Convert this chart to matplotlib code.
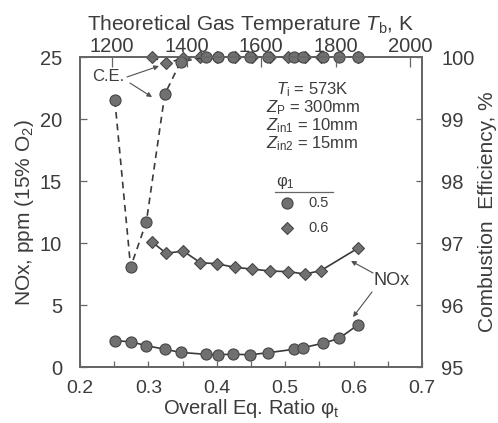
import numpy as np
import matplotlib
matplotlib.use("Agg")
import matplotlib.pyplot as plt

plt.rcParams['font.family'] = ['Liberation Sans', 'DejaVu Sans']
plt.rcParams['mathtext.fontset'] = 'custom'
plt.rcParams['mathtext.rm'] = 'Liberation Sans'
plt.rcParams['mathtext.it'] = 'Liberation Sans:italic'

#%% Data
phi_05 = [0.251, 0.274, 0.297, 0.324, 0.347, 0.384, 0.402, 0.423, 0.449,
          0.475, 0.513, 0.526, 0.555, 0.579, 0.606]
nox_05 = [2.12, 2.04, 1.72, 1.43, 1.18, 1.02, 0.99, 1.03, 0.99,
          1.15, 1.43, 1.56, 1.91, 2.31, 3.39]
ce_05  = [99.30, 96.61, 97.34, 99.40, 99.92, 100.0, 100.0, 100.0, 100.0,
          100.0, 100.0, 100.0, 100.0, 100.0, 100.0]

phi_06 = [0.305, 0.326, 0.351, 0.376, 0.400, 0.426, 0.451, 0.478, 0.504,
          0.529, 0.552, 0.606]
nox_06 = [10.1, 9.17, 9.35, 8.41, 8.33, 8.04, 7.90, 7.74, 7.69,
          7.50, 7.77, 9.57]
ce_06  = [100.0, 99.90, 99.98, 100.0, 100.0, 100.0, 100.0, 100.0, 100.0,
          100.0, 100.0, 100.0]

x_ticks   = [0.2, 0.3, 0.4, 0.5, 0.6, 0.7]
nox_ticks = [0, 5, 10, 15, 20, 25]
ce_ticks  = [95, 96, 97, 98, 99, 100]
tb_ticks  = [1200, 1400, 1600, 1800, 2000]
phi1_labels = ['0.5', '0.6']

#### Styles
gray_txt  = '#3c3c3c'
gray_ax   = '#666666'
mfill     = '#707070'
medge     = '#464646'
lcol      = '#3a3a3a'
circ = dict(marker='o', ms=8, mfc=mfill, mec=medge, mew=0.8)
diam = dict(marker='D', ms=6, mfc=mfill, mec=medge, mew=0.8)

fig = plt.figure(figsize=(4.98, 4.23), dpi=100)
ax  = fig.add_axes([80/498, 1-367/423, 342/498, 310/423])
axr = ax.twinx()
axt = ax.twiny()

#### CE (right axis)
axr.plot(phi_06, ce_06, color=lcol, lw=1.2, ls=(0, (4, 3)), clip_on=False, zorder=3, **diam)
axr.plot(phi_05, ce_05, color=lcol, lw=1.2, ls=(0, (4, 3)), clip_on=False, zorder=4, **circ)

#### NOx (left axis)
ax.plot(phi_06, nox_06, color=lcol, lw=1.2, clip_on=False, **diam)
ax.plot(phi_05, nox_05, color=lcol, lw=1.2, clip_on=False, **circ)

#### Limits and ticks
ax.set_xlim(0.2, 0.7)
ax.set_ylim(0, 25)
axr.set_ylim(95, 100)
axt.set_xlim(1114, 2032)

ax.set_xticks(x_ticks)
ax.set_xticks(np.arange(0.25, 0.7, 0.1), minor=True)
ax.set_yticks(nox_ticks)
axr.set_yticks(ce_ticks)
axt.set_xticks(tb_ticks)

ax.tick_params(axis='x', which='both', direction='in', length=4, width=0.9,
               colors=gray_ax, labelcolor=gray_txt, labelsize=14, pad=9)
ax.tick_params(axis='y', direction='in', length=5, width=0.9,
               colors=gray_ax, labelcolor=gray_txt, labelsize=14.5, pad=13)
axr.tick_params(axis='y', direction='in', length=4, width=0.9,
                colors=gray_ax, labelcolor=gray_txt, labelsize=14.5, pad=14)
axt.tick_params(axis='x', direction='in', length=7, width=0.9,
                colors=gray_ax, labelcolor=gray_txt, labelsize=14.5, pad=1)
ax.set_xticklabels(['0.2', '0.3', '0.4', '0.5', '0.6', '0.7'])

for a in (ax, axr, axt):
    for s in a.spines.values():
        s.set_color(gray_ax)
        s.set_linewidth(1.1)

ax.set_xlabel('Overall Eq. Ratio φ$_\\mathrm{t}$', fontsize=14.5, color=gray_txt, labelpad=0)
ax.set_ylabel('NOx, ppm (15% O$_2$)', fontsize=15, color=gray_txt, labelpad=3)
axr.set_ylabel('Combustion  Efficiency, %', fontsize=15, color=gray_txt,
               rotation=90, labelpad=2)
axt.set_xlabel('Theoretical Gas Temperature $T_\\mathrm{b}$, K', fontsize=15,
               color=gray_txt, labelpad=5)

#### Conditions
cond = ['$T_\\mathrm{i}$ = 573K', '$Z_\\mathrm{P}$ = 300mm',
        '$Z_\\mathrm{in1}$ = 10mm', '$Z_\\mathrm{in2}$ = 15mm']
for i, t in enumerate(cond):
    ax.text(0.54, 22.4 - i*1.45, t, ha='center', va='center', fontsize=12,
            color=gray_txt)

#### Legend (phi_1)
ax.text(0.602, 0.594, 'φ$_1$', transform=ax.transAxes, ha='center', va='center',
        fontsize=12, color=gray_txt)
ax.plot([0.570, 0.740], [0.565, 0.565], transform=ax.transAxes, color=gray_ax, lw=0.9)
for yk, sty, lab in zip([0.530, 0.448], [circ, diam], phi1_labels):
    ax.plot([0.605], [yk], transform=ax.transAxes, ls='none', **sty)
    ax.text(0.667, yk, lab, transform=ax.transAxes, ha='left', va='center',
            fontsize=10.5, color=gray_txt)

#### Annotations
arw = dict(arrowstyle='-|>', color='#505050', lw=0.8, mutation_scale=7,
           shrinkA=0, shrinkB=0)
ax.text(0.241, 23.4, 'C.E.', ha='center', va='center', fontsize=12, color=gray_txt)
ax.annotate('', xy=(0.3155, 24.27), xytext=(0.2687, 23.39), arrowprops=arw)
ax.annotate('', xy=(0.3053, 21.77), xytext=(0.2731, 22.9), arrowprops=arw)
ax.text(0.656, 6.94, 'NOx', ha='center', va='center', fontsize=13, color=gray_txt)
ax.annotate('', xy=(0.5962, 8.55), xytext=(0.6284, 7.58), arrowprops=arw)
ax.annotate('', xy=(0.5991, 4.03), xytext=(0.6269, 6.05), arrowprops=arw)

fig.savefig('out.png', dpi=100)
